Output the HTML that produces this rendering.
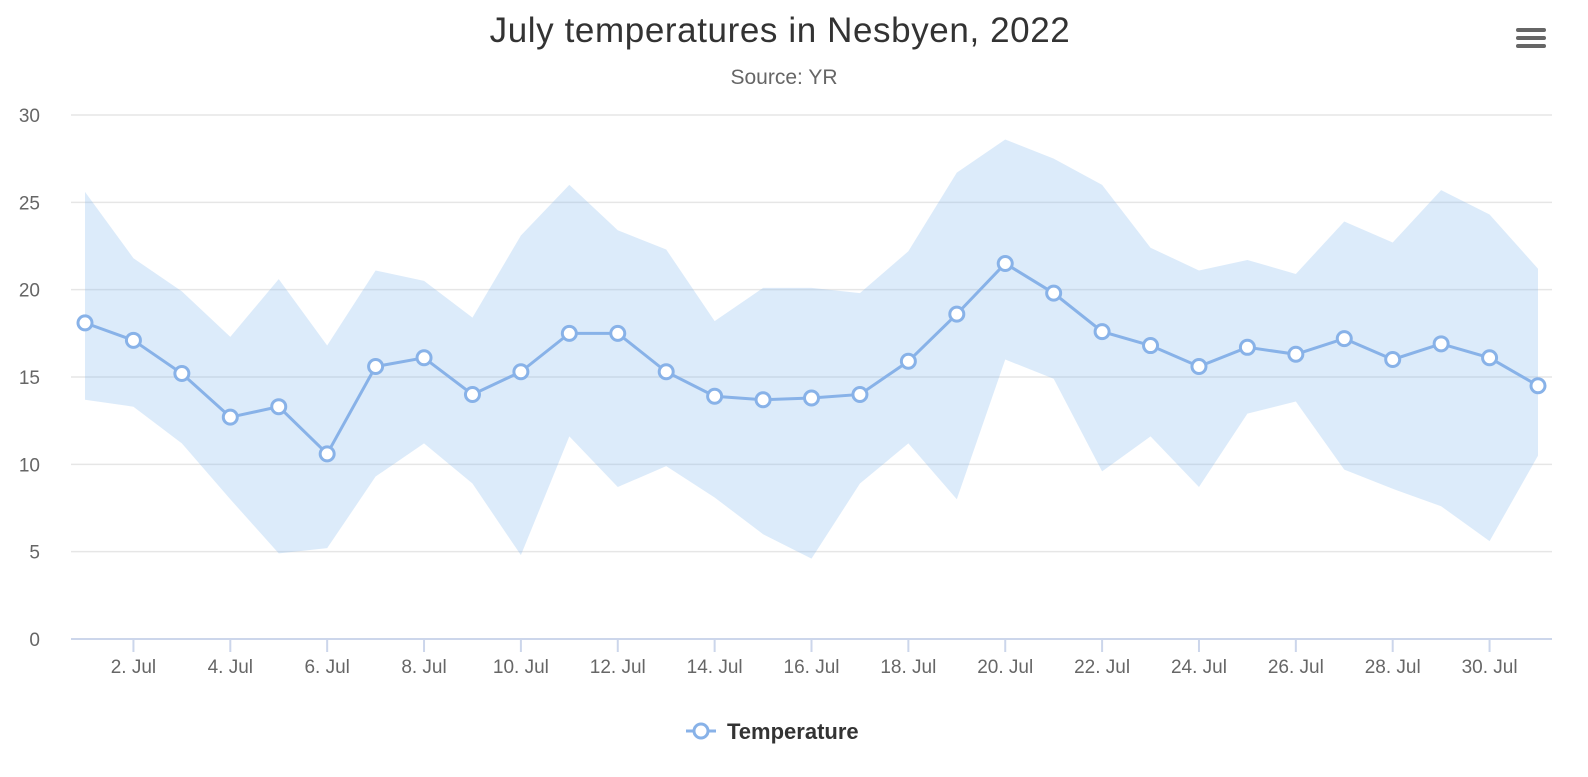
<!DOCTYPE html>
<html><head><meta charset="utf-8"><style>
body{margin:0;background:#fff;font-family:"Liberation Sans",sans-serif}
svg text{font-family:"Liberation Sans",sans-serif}
</style></head><body>
<svg id="c" width="1588" height="772">
<text x="780" y="42" text-anchor="middle" font-size="35" letter-spacing="0.6" fill="#333">July temperatures in Nesbyen, 2022</text>
<text x="784" y="84" text-anchor="middle" font-size="21" fill="#666">Source: YR</text>
<g><rect x="1516" y="28" width="30" height="4" rx="2" fill="#666"/><rect x="1516" y="36" width="30" height="4" rx="2" fill="#666"/><rect x="1516" y="44" width="30" height="4" rx="2" fill="#666"/></g>
<g id="grid"></g><g id="area"></g><g id="line"></g><g id="xaxis"></g>
<g>
<line x1="686" y1="731" x2="716" y2="731" stroke="#88b2e8" stroke-width="3"/>
<circle cx="701" cy="731" r="7" fill="#fff" stroke="#88b2e8" stroke-width="3"/>
<text x="727" y="739" font-size="22" font-weight="bold" fill="#333">Temperature</text></g>
</svg>
<script>
const days=[1,2,3,4,5,6,7,8,9,10,11,12,13,14,15,16,17,18,19,20,21,22,23,24,25,26,27,28,29,30,31];
const temps=[18.1,17.1,15.2,12.7,13.3,10.6,15.6,16.1,14.0,15.3,17.5,17.5,15.3,13.9,13.7,13.8,14.0,15.9,18.6,21.5,19.8,17.6,16.8,15.6,16.7,16.3,17.2,16.0,16.9,16.1,14.5];
const highs=[25.6,21.8,19.9,17.3,20.6,16.8,21.1,20.5,18.4,23.1,26.0,23.4,22.3,18.2,20.1,20.1,19.8,22.2,26.7,28.6,27.5,26.0,22.4,21.1,21.7,20.9,23.9,22.7,25.7,24.3,21.2];
const lows=[13.7,13.3,11.2,8.0,4.9,5.2,9.3,11.2,8.9,4.8,11.6,8.7,9.9,8.1,6.0,4.6,8.9,11.2,8.0,16.0,14.9,9.6,11.6,8.7,12.9,13.6,9.7,8.6,7.6,5.6,10.5];
const yTicks=[0,5,10,15,20,25,30];
const xTicks=[2,4,6,8,10,12,14,16,18,20,22,24,26,28,30];
const NS="http://www.w3.org/2000/svg";
const X=d=>85+(d-1)*(1453/30), Y=v=>639-v*(524/30);
function mk(t,a,p){const e=document.createElementNS(NS,t);for(const k in a)e.setAttribute(k,a[k]);p.appendChild(e);return e;}
const g=document.getElementById('grid');
yTicks.forEach(v=>{
 const l=mk('line',{x1:71,x2:1552,y1:Y(v),y2:Y(v),stroke:v===0?'#ccd6eb':'#e6e6e6','stroke-width':v===0?2:1.5},g);
 
 
 const t=mk('text',{x:40,y:Y(v)+7,'text-anchor':'end','font-size':19,fill:'#666'},g);t.textContent=v;
 
 
});
const xa=document.getElementById('xaxis');
xTicks.forEach(d=>{
 const l=mk('line',{x1:X(d),x2:X(d),y1:639,y2:652,stroke:'#ccd6eb','stroke-width':2},xa);
 
 
 const t=mk('text',{x:X(d),y:673,'text-anchor':'middle','font-size':19,fill:'#666'},xa);t.textContent=d+'. Jul';
 
 
});
let pts=days.map((d,i)=>X(d)+','+Y(highs[i]));
for(let i=days.length-1;i>=0;i--)pts.push(X(days[i])+','+Y(lows[i]));
const ar=mk('polygon',{points:pts.join(' '),fill:'#7cb5ec','fill-opacity':0.27},document.getElementById('area'));


const lg=document.getElementById('line');
const pl=mk('polyline',{points:days.map((d,i)=>X(d)+','+Y(temps[i])).join(' '),fill:'none',stroke:'#88b2e8','stroke-width':3},lg);


days.forEach((d,i)=>{
 const c=mk('circle',{cx:X(d),cy:Y(temps[i]),r:7,fill:'#fff',stroke:'#88b2e8','stroke-width':3},lg);
 
 
});
</script>
</body></html>
